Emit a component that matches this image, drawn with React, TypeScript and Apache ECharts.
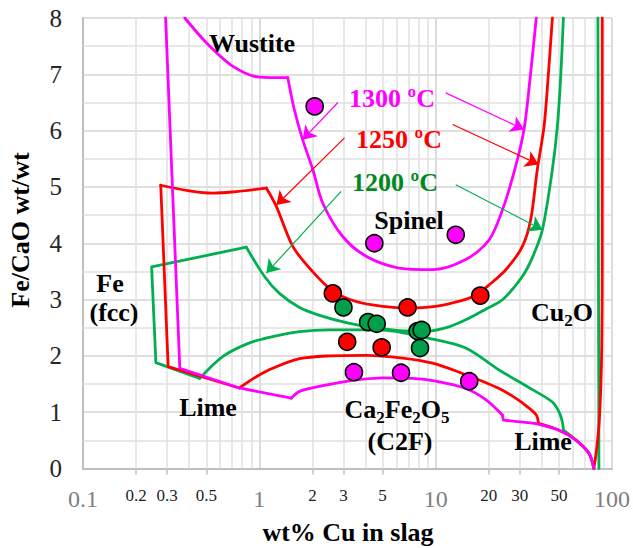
import React, { useEffect, useRef } from "react";
import * as echarts from "echarts";

const FONT = "'Liberation Serif', 'Times New Roman', serif";

// ---- axes ----
const xMin = 0.1;
const xMax = 100;
const xSmallTicks = [0.2, 0.3, 0.5, 2, 3, 5, 20, 30, 50];
const xMinorGrid = [
  0.2, 0.3, 0.4, 0.5, 0.6, 0.7, 0.8, 0.9,
  2, 3, 4, 5, 6, 7, 8, 9,
  20, 30, 40, 50, 60, 70, 80, 90,
];
const yMin = 0;
const yMax = 8;
const yInterval = 1;
const yMinorGrid = [0.5, 1.5, 2.5, 3.5, 4.5, 5.5, 6.5, 7.5];

// ---- 1300 °C boundary (magenta) ----
const m1300Left = [[0.294, 8], [0.354, 1.78], [0.77, 1.43], [1.52, 1.25]];
const m1300Lower = [
  [1.52, 1.25], [1.69, 1.37], [2.19, 1.46], [3.0, 1.54], [3.69, 1.58], [5, 1.61],
  [7.37, 1.6], [10, 1.55], [14.8, 1.42], [19.3, 1.22], [23.9, 0.95],
];
const m1300Notch = [[23.9, 0.95], [24.2, 0.86], [36.6, 0.8]];
const m1300Lime = [[36.6, 0.8], [50, 0.68], [62.2, 0.51], [74, 0.27], [78.9, 0]];
const m1300Wustite = [[0.378, 8], [0.501, 7.56], [0.709, 7.14], [1.0, 6.95], [1.45, 6.94]];
const m1300Spinel = [
  [1.45, 6.94], [1.58, 6.37], [1.76, 5.84], [2.01, 5.31], [2.29, 4.71], [2.97, 4.12],
  [4.03, 3.77], [6.22, 3.56], [9.6, 3.53], [14.8, 3.71], [20.1, 4.06], [23.9, 4.59],
  [28.2, 5.33], [31.7, 6.02], [34.5, 7.0], [37.2, 8],
];

// ---- 1250 °C boundary (red) ----
const r1250Top = [[1.096, 4.98], [0.7, 4.91], [0.546, 4.89], [0.4, 4.93], [0.276, 5.03]];
const r1250Left = [[0.276, 5.03], [0.304, 1.81], [0.77, 1.43]];
const r1250Spinel = [
  [1.096, 4.98], [1.25, 4.65], [1.55, 3.94], [2.0, 3.5], [2.61, 3.15], [3.5, 2.97],
  [5, 2.88], [7.1, 2.85], [10, 2.88], [14, 2.98], [16.9, 3.08], [20.1, 3.26], [25, 3.53],
  [31, 3.94], [34.6, 4.42], [37.7, 5.31], [41.2, 6.08], [43.5, 6.97], [45.9, 8],
];
const r1250Lower = [
  [0.77, 1.43], [0.962, 1.63], [1.19, 1.78], [1.69, 1.95], [2.5, 2.0], [4.03, 2.01],
  [6.5, 1.96], [9.6, 1.87], [13.6, 1.71], [18.4, 1.55], [22.9, 1.42], [28.4, 1.25],
  [33, 1.1], [37.2, 0.95], [38.3, 0.8],
];
const r1250Lime = [[38.3, 0.8], [50, 0.68], [62.2, 0.51], [74, 0.27], [78.9, 0]];
const r1250Right = [[78.9, 0], [81.5, 0.3], [84.5, 0.8], [86.5, 1.5], [87.5, 2.2], [88, 3.5], [88, 8]];

// ---- 1200 °C boundary (green) ----
const g1200Box = [[0.844, 3.93], [0.245, 3.58], [0.259, 1.88], [0.459, 1.6]];
const g1200Spinel = [
  [0.844, 3.93], [1.07, 3.41], [1.3, 3.11], [1.69, 2.86], [2.2, 2.72], [3.2, 2.58],
  [4.5, 2.5], [6.2, 2.45], [9, 2.44], [12, 2.52], [14.8, 2.64], [19, 2.82], [24, 3.0],
  [31, 3.41], [35.4, 3.75], [40.3, 4.24], [45.9, 5.31], [49, 6.08], [51.2, 6.97], [53, 8],
];
const g1200Lower = [
  [0.459, 1.6], [0.622, 1.99], [0.88, 2.23], [1.19, 2.34], [1.69, 2.43], [2.5, 2.46],
  [4.8, 2.46], [9.2, 2.31], [14.8, 2.14], [22.9, 1.75], [35.4, 1.4], [45.9, 1.18],
  [50.5, 0.98], [52.5, 0.8], [53, 0.68],
];
const g1200Lime = [[53, 0.68], [62.2, 0.51], [74, 0.27], [78.9, 0]];
const g1200Right = [[83.2, 8], [84.3, 0]];

// ---- measured points ----
const pts1300 = [[2.06, 6.43], [4.49, 4.0], [13.0, 4.15], [3.44, 1.71], [6.36, 1.7], [15.5, 1.55]];
const pts1250 = [[2.61, 3.11], [6.93, 2.86], [17.9, 3.07], [3.15, 2.25], [4.94, 2.15]];
const pts1200 = [[3.0, 2.86], [4.14, 2.6], [4.63, 2.57], [7.9, 2.44], [8.33, 2.46], [8.15, 2.14]];

// ---- arrows (data coordinates: from label to curve) ----
const arrows1300 = [[[2.79, 6.5], [1.76, 5.84]], [[11.4, 6.67], [31.7, 6.02]]];
const arrows1250 = [[[3.04, 5.87], [1.25, 4.68]], [[12.5, 6.11], [38.3, 5.4]]];
const arrows1200 = [[[2.91, 4.92], [1.096, 3.47]], [[13.0, 5.04], [40.3, 4.24]]];

const MAG = "#FF00FF";
const RED = "#FF0000";
const GRN = "#00B050";
const GRN_TXT = "#008A1E";
const ANN = 26;
const SUB = 17;

function curve(data: number[][], color: string, smooth: number | boolean, z: number) {
  return {
    type: "line",
    data,
    symbol: "none",
    showSymbol: false,
    smooth,
    silent: true,
    z,
    lineStyle: { color, width: 2.8, cap: "round", join: "round" },
  };
}

function arrowMarks(list: number[][][], color: string) {
  return {
    silent: true,
    z: 6,
    symbol: ["none", "arrow"],
    symbolSize: 13,
    label: { show: false },
    lineStyle: { color, width: 1.2, type: "solid" },
    data: list.map((a) => [{ coord: a[0] }, { coord: a[1] }]),
  };
}

function points(data: number[][], color: string) {
  return {
    type: "scatter",
    data,
    symbol: "circle",
    symbolSize: 17,
    silent: true,
    z: 10,
    itemStyle: { color, borderColor: "#000", borderWidth: 1.6, opacity: 1 },
  };
}

function label(text: string, x: number, y: number, color: string, size: number, extra: any = {}) {
  return {
    type: "text",
    x,
    y,
    z: 100,
    silent: true,
    style: {
      text,
      fill: color,
      fontSize: size,
      fontWeight: "bold",
      fontFamily: FONT,
      align: "center",
      verticalAlign: "middle",
      ...extra,
    },
  };
}

let measureCtx: CanvasRenderingContext2D | null = null;
function textWidth(t: string, size: number) {
  if (!measureCtx) measureCtx = document.createElement("canvas").getContext("2d");
  if (!measureCtx) return t.length * size * 0.55;
  measureCtx.font = `bold ${size}px ${FONT}`;
  return measureCtx.measureText(t).width;
}

// formula with subscripts, laid out piece by piece around centre (cx, cy)
function formula(parts: [string, boolean][], cx: number, cy: number) {
  const widths = parts.map(([t, sub]) => textWidth(t, sub ? SUB : ANN));
  const total = widths.reduce((a, b) => a + b, 0);
  let x = cx - total / 2;
  return parts.map(([t, sub], i) => {
    const el = {
      type: "text",
      x,
      y: sub ? cy + 8 : cy,
      z: 100,
      silent: true,
      style: {
        text: t,
        fill: "#000",
        fontSize: sub ? SUB : ANN,
        fontWeight: "bold",
        fontFamily: FONT,
        align: "left",
        verticalAlign: "middle",
      },
    };
    x += widths[i];
    return el;
  });
}

export default function App() {
  const ref = useRef<HTMLDivElement>(null);
  useEffect(() => {
    const chart = echarts.init(ref.current!, null, { renderer: "svg" });
    const option: any = {
      animation: false,
      backgroundColor: "#ffffff",
      grid: { left: 83, right: 20, top: 18, bottom: 79.5, containLabel: false },
      xAxis: [
        {
          type: "log",
          logBase: 10,
          min: xMin,
          max: xMax,
          position: "bottom",
          axisLine: { show: true, onZero: false, lineStyle: { color: "#bfbfbf", width: 2 } },
          axisTick: { show: false },
          axisLabel: { fontSize: 24, color: "#808080", fontFamily: FONT, margin: 18 },
          splitLine: { show: true, lineStyle: { color: "#d4d4d4", width: 1.6 } },
        },
        {
          type: "log",
          logBase: 10,
          min: xMin,
          max: xMax,
          position: "bottom",
          axisLine: { show: false },
          axisTick: {
            show: true,
            customValues: xSmallTicks,
            length: 6,
            lineStyle: { color: "#bfbfbf", width: 1.5 },
          },
          axisLabel: {
            customValues: xSmallTicks,
            fontSize: 17,
            color: "#222222",
            fontFamily: FONT,
            margin: 18,
            formatter: (v: number) => String(+v.toPrecision(3)),
          },
          splitLine: { show: false },
        },
      ],
      yAxis: {
        type: "value",
        min: yMin,
        max: yMax,
        interval: yInterval,
        axisLine: { show: true, lineStyle: { color: "#bfbfbf", width: 2 } },
        axisTick: { show: false },
        axisLabel: { fontSize: 25, color: "#262626", fontFamily: FONT, margin: 21 },
        splitLine: { show: true, lineStyle: { color: "#d4d4d4", width: 1.6 } },
      },
      series: [
        {
          type: "line",
          data: [[1, 0]],
          symbol: "none",
          lineStyle: { width: 0 },
          silent: true,
          z: 2,
          markLine: {
            silent: true,
            z: 2,
            symbol: ["none", "none"],
            label: { show: false },
            lineStyle: { color: "#e0e0e0", width: 1.5, type: "solid", opacity: 1 },
            data: [
              ...xMinorGrid.map((v) => ({ xAxis: v })),
              ...yMinorGrid.map((v) => ({ yAxis: v })),
            ],
          },
        },
        curve(g1200Box, GRN, false, 3),
        { ...curve(g1200Spinel, GRN, 0.3, 3), markLine: arrowMarks(arrows1200, GRN) },
        curve(g1200Lower, GRN, 0.3, 3),
        curve(g1200Lime, GRN, 0.3, 3),
        curve(g1200Right, GRN, false, 3),
        curve(r1250Top, RED, 0.3, 4),
        curve(r1250Left, RED, false, 4),
        { ...curve(r1250Spinel, RED, 0.3, 4), markLine: arrowMarks(arrows1250, RED) },
        curve(r1250Lower, RED, 0.3, 4),
        curve(r1250Lime, RED, 0.3, 4),
        curve(r1250Right, RED, 0.3, 4),
        curve(m1300Left, MAG, false, 5),
        curve(m1300Lower, MAG, 0.3, 5),
        curve(m1300Notch, MAG, false, 5),
        curve(m1300Lime, MAG, 0.3, 5),
        { ...curve(m1300Wustite, MAG, 0.3, 5), markLine: arrowMarks(arrows1300, MAG) },
        curve(m1300Spinel, MAG, 0.3, 5),
        points(pts1300, MAG),
        points(pts1250, RED),
        points(pts1200, "#00A04A"),
      ],
      graphic: [
        label("Wustite", 252, 43, "#000", ANN),
        label("1300 ºC", 392, 98, MAG, ANN),
        label("1250 ºC", 399, 139, RED, ANN),
        label("1200 ºC", 395, 182, GRN_TXT, ANN),
        label("Spinel", 409, 220, "#000", ANN),
        label("Fe", 110, 283, "#000", ANN),
        label("(fcc)", 114, 312, "#000", ANN),
        label("Lime", 208, 407, "#000", ANN),
        ...formula([["Ca", false], ["2", true], ["Fe", false], ["2", true], ["O", false], ["5", true]], 397, 409),
        label("(C2F)", 400, 441, "#000", ANN),
        label("Lime", 543, 441, "#000", ANN),
        ...formula([["Cu", false], ["2", true], ["O", false]], 562, 312),
        label("wt% Cu in slag", 348, 532, "#000", 26),
        { ...label("Fe/CaO wt/wt", 20, 230, "#000", 26), rotation: Math.PI / 2 },
      ],
    };
    chart.setOption(option);
    return () => chart.dispose();
  }, []);
  return <div ref={ref} style={{ position: "absolute", left: 0, top: 0, width: 633, height: 548 }} />;
}
